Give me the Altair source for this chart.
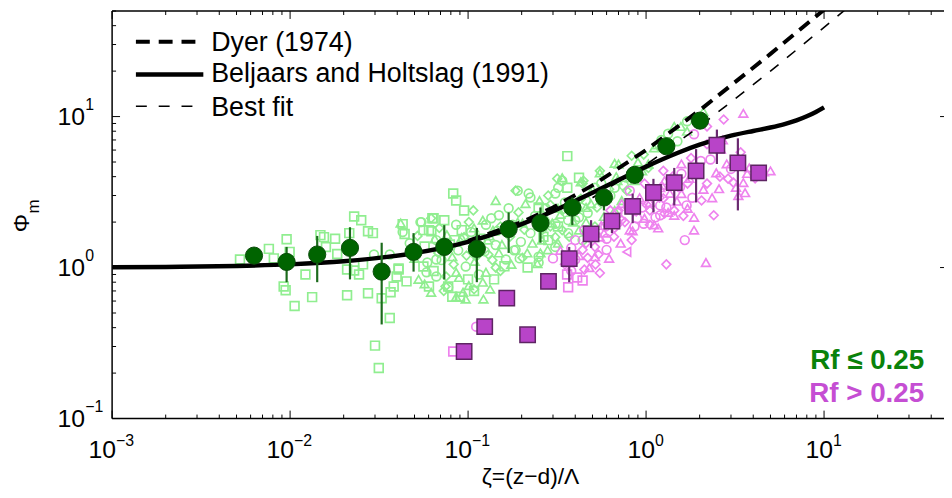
import altair as alt
import pandas as pd

FONT = "Liberation Sans"
W, H = 839, 411

# ---------------- data ----------------
# bin means, Rf <= 0.25 (filled green circles) with error bars
g_zeta = [0.00627, 0.00956, 0.0142, 0.0217, 0.0327, 0.0494, 0.0735, 0.112, 0.169, 0.255, 0.385, 0.580, 0.863, 1.30, 2.01]
g_phi = [1.20, 1.09, 1.22, 1.35, 0.94, 1.27, 1.37, 1.33, 1.80, 1.97, 2.50, 2.91, 4.11, 6.36, 9.4]
g_lo = [1.20, 0.80, 0.80, 0.835, 0.42, 0.94, 0.835, 0.80, 1.25, 1.46, 1.91, 2.39, 3.6, 6.0, 9.4]
g_hi = [1.20, 1.37, 1.62, 1.85, 1.46, 1.69, 1.91, 1.83, 2.32, 2.50, 2.91, 3.23, 4.57, 6.7, 9.4]

# bin means, Rf > 0.25 (filled purple squares) with error bars
p_zeta = [0.095, 0.124, 0.165, 0.216, 0.283, 0.370, 0.491, 0.643, 0.841, 1.10, 1.44, 1.91, 2.50, 3.28, 4.29]
p_phi = [0.278, 0.406, 0.627, 0.359, 0.81, 1.145, 1.67, 2.03, 2.54, 3.14, 3.65, 4.37, 6.46, 4.93, 4.24]
p_lo = [0.278, 0.406, 0.627, 0.359, 0.81, 0.80, 1.35, 1.69, 1.97, 2.32, 2.58, 2.70, 4.85, 2.39, 4.24]
p_hi = [0.278, 0.406, 0.627, 0.359, 0.81, 1.37, 2.06, 2.29, 3.09, 3.87, 4.57, 6.09, 8.2, 7.18, 4.24]

# individual runs, Rf <= 0.25 (open light-green markers)
lg_zeta = [0.00523, 0.0076, 0.0081, 0.00956, 0.00994, 0.0092, 0.00944, 0.0106, 0.0122, 0.0133,
           0.0148, 0.0155, 0.0179, 0.0159, 0.0184, 0.0209, 0.0209, 0.0229, 0.0215, 0.0229,
           0.0251, 0.0274, 0.0292, 0.0257, 0.0244, 0.0274, 0.0296, 0.0363, 0.0327, 0.0367,
           0.0363, 0.0382, 0.0407, 0.0397, 0.0451, 0.0429, 0.044, 0.054, 0.0561, 0.0622,
           0.063, 0.030, 0.0315,
           0.361, 0.317, 0.321, 0.185, 0.219, 0.224, 0.252, 0.143, 0.0825, 0.0857,
           0.095, 0.107, 0.121, 0.135, 0.149, 0.169, 0.192, 0.210, 0.0640, 0.0735,
           0.0547, 0.0603, 0.0689, 0.0857, 0.0921, 0.101, 0.108, 0.126, 0.138, 0.152,
           0.178, 0.202, 0.224, 0.261, 0.297, 0.282, 0.309, 0.338, 0.255, 0.216,
           0.245, 0.185, 0.202, 0.149, 0.163, 0.143, 0.126, 0.140, 0.121, 0.108,
           0.0937, 0.090, 0.0773, 0.0752, 0.0663, 0.0603, 0.0620, 0.0584, 0.0561, 0.0527,
           0.0663, 0.0815, 0.0970, 0.111, 0.0857, 0.100, 0.0747, 0.0815, 0.0663, 0.084,
           0.095, 0.129, 0.143, 0.130, 0.115, 0.107, 0.097, 0.122, 0.0857, 0.0773,
           0.0889, 0.108, 0.0407, 0.0418, 0.0429, 0.062, 0.249, 0.249, 0.338, 0.361,
           0.309, 0.282, 0.249, 0.190, 0.430, 0.445, 0.55, 0.70, 0.666, 0.58,
           0.46, 0.42, 0.272, 0.32, 0.365, 0.46, 0.516, 0.58, 0.666, 0.73,
           0.78, 0.861, 0.95, 1.03, 0.29, 0.26, 0.28, 0.309, 0.42, 0.42,
           0.44, 0.55, 0.666, 0.83, 1.11, 1.33, 1.44, 1.70, 1.03, 0.81,
           0.69, 0.516, 0.44, 0.338, 0.42, 0.63, 0.49, 0.338, 0.40, 0.46,
           0.32, 0.365, 0.32, 1.57, 1.50, 1.70, 2.1,
           0.047, 0.050, 0.052, 0.057, 0.059, 0.065, 0.068, 0.071, 0.076, 0.079,
           0.083, 0.088, 0.092, 0.098, 0.104, 0.109, 0.117, 0.124, 0.132, 0.137,
           0.146, 0.155, 0.160, 0.172, 0.181, 0.190, 0.198, 0.207, 0.230, 0.238,
           0.265, 0.275, 0.29, 0.31, 0.33, 0.35, 0.37, 0.39, 0.41, 0.43,
           0.47, 0.50, 0.53, 0.56, 0.60, 0.62, 0.68, 0.75, 0.90, 0.97,
           1.15, 1.22, 0.057, 0.064, 0.073, 0.101, 0.115, 0.133, 0.152, 0.175,
           0.195, 0.215]
lg_phi = [1.13, 1.33, 1.15, 1.54, 1.27, 0.75, 0.707, 0.556, 0.90, 0.637,
          1.64, 1.59, 1.55, 1.37, 1.23, 0.656, 0.970, 0.955, 1.69, 2.18,
          2.06, 1.74, 1.69, 1.05, 0.90, 0.676, 1.22, 1.22, 0.627, 0.686,
          0.464, 0.75, 0.985, 0.873, 0.81, 1.94, 1.67, 2.00, 1.77, 1.74,
          2.12, 0.304, 0.216,
          5.47, 3.88, 3.38, 3.23, 3.09, 2.91, 2.78, 2.78, 3.09, 2.78,
          2.39, 2.39, 2.06, 2.12, 2.22, 2.47, 2.32, 2.65, 2.12, 2.06,
          2.00, 1.77, 1.83, 1.92, 1.77, 2.00, 1.83, 1.92, 1.77, 1.87,
          1.92, 1.97, 1.69, 1.77, 1.97, 1.52, 1.37, 1.77, 1.25, 1.00,
          1.06, 1.31, 1.16, 1.25, 1.13, 1.00, 0.93, 0.835, 0.80, 0.718,
          0.686, 0.64, 0.75, 0.873, 0.873, 0.75, 0.686, 0.93, 1.015, 0.835,
          1.13, 1.18, 1.015, 1.18, 0.93, 0.835, 0.75, 0.64, 1.52, 1.52,
          1.59, 1.52, 1.41, 1.22, 1.37, 1.48, 0.618, 0.618, 0.64, 0.74,
          0.86, 0.70, 0.97, 1.97, 1.72, 2.12, 1.18, 1.08, 3.76, 3.38,
          3.09, 3.00, 2.50, 3.23, 3.70, 3.76, 4.24, 4.85, 3.38, 3.09,
          2.78, 2.78, 2.47, 2.47, 2.06, 2.00, 1.87, 2.18, 2.39, 2.78,
          3.23, 3.76, 4.37, 4.85, 1.87, 1.52, 1.31, 1.59, 2.15, 1.77,
          1.52, 4.37, 4.9, 5.5, 6.2, 7.7, 8.6, 9.3, 4.57, 3.93,
          3.76, 3.38, 3.60, 3.93, 3.93, 3.00, 2.65, 2.39, 2.06, 2.50,
          1.87, 1.69, 1.45, 8.6, 6.86, 8.0, 10.8,
          1.45, 1.15, 1.62, 1.38, 1.08, 1.55, 1.25, 1.12, 1.65, 1.42,
          1.05, 1.30, 1.58, 1.20, 1.72, 1.10, 1.55, 1.28, 1.62, 1.12,
          1.75, 1.42, 1.02, 1.60, 1.30, 2.00, 1.48, 1.78, 1.45, 2.20,
          1.60, 2.10, 2.60, 1.95, 2.25, 2.70, 1.60, 2.00, 2.45, 2.85,
          2.30, 3.30, 2.50, 3.60, 2.90, 3.30, 4.00, 3.50, 5.00, 5.60,
          6.50, 7.00, 0.78, 0.95, 0.70, 0.76, 0.90, 0.72, 0.95, 1.05,
          1.15, 1.25]
lg_shape = ["s"] * 26 + ["o", "o"] + ["s"] * 9 + ["o"] + ["s"] * 5 + \
    ["s", "d", "o", "d", "o", "o", "^", "^", "s", "s",
     "s", "d", "^", "o", "o", "o", "d", "^", "s", "s",
     "o", "s", "d", "o", "s", "d", "^", "o", "^", "d",
     "o", "^", "o", "d", "^", "s", "o", "d", "^", "s",
     "^", "o", "d", "^", "o", "d", "^", "s", "^", "d",
     "^", "s", "s", "d", "o", "s", "^", "o", "s", "^",
     "o", "^", "o", "d", "^", "s", "d", "s", "o", "s",
     "d", "^", "o", "d", "s", "^", "^", "^", "^", "o",
     "^", "s", "s", "^", "o", "d", "o", "o", "o", "s",
     "o", "d", "s", "o", "^", "d", "^", "^", "o", "^",
     "o", "d", "o", "^", "o", "^", "d", "^", "^", "^",
     "d", "^", "^", "^", "d", "^", "^", "d", "o", "^",
     "o", "d", "^", "d", "^", "o", "^", "o", "d", "^",
     "^", "o", "d", "^", "s", "o", "^", "d", "o", "^",
     "s", "o", "^", "^", "o", "^", "^",
     "o", "^", "d", "s", "o", "^", "d", "o", "^", "s",
     "d", "o", "^", "d", "o", "^", "s", "o", "^", "d",
     "o", "^", "s", "d", "o", "^", "o", "d", "^", "o",
     "s", "^", "d", "o", "^", "o", "d", "^", "o", "d",
     "o", "^", "d", "o", "^", "d", "^", "o", "^", "d",
     "^", "o", "^", "s", "d", "^", "o", "^", "d", "^",
     "o", "^"]

# individual runs, Rf > 0.25 (open violet markers)
pk_zeta = [3.52, 2.73, 2.2, 1.86, 2.2, 2.63, 2.84, 2.48, 2.89, 3.52,
           3.6, 3.10, 2.03, 1.79, 1.58, 1.71, 1.58, 1.38, 1.25, 1.33,
           1.20, 1.05, 1.11, 1.05, 0.89, 0.81, 0.73, 0.95, 1.20, 0.98,
           0.81, 0.73, 0.63, 0.59, 0.55, 0.516, 0.516, 0.47, 0.40, 0.44,
           0.40, 0.78, 1.30, 2.17, 2.05, 1.86, 1.69, 2.2, 2.57, 3.8,
           1.71, 1.44, 5.0, 0.365, 0.41, 0.54, 0.45, 0.58, 0.666, 0.861,
           0.98, 1.17, 1.27, 1.20, 1.05, 1.44, 0.69, 0.63, 0.70, 1.27,
           1.25, 1.58, 0.0825, 0.111, 0.45, 0.60, 0.83, 1.86, 1.65, 2.40,
           3.3,
           0.42, 0.46, 0.50, 0.52, 0.56, 0.60, 0.62, 0.66, 0.69, 0.72,
           0.76, 0.79, 0.84, 0.88, 0.92, 0.97, 1.01, 1.07, 1.13, 1.19,
           1.23, 1.30, 1.36, 1.41, 1.49, 1.55, 1.62, 1.75, 1.82, 1.95,
           2.1, 2.3, 2.35, 2.6, 2.7, 3.0, 3.2, 3.4, 3.7, 4.1,
           4.6, 0.38, 0.44, 0.48, 0.55, 0.35, 0.30, 0.33, 0.38, 0.36]
pk_phi = [10.5, 9.56, 8.6, 7.63, 6.56, 6.08, 4.86, 4.24, 3.88, 3.65,
          3.13, 3.65, 5.08, 5.31, 4.86, 3.60, 3.09, 3.60, 2.87, 2.32,
          2.22, 2.39, 1.92, 1.92, 2.12, 1.77, 2.06, 2.50, 3.38, 3.60,
          3.23, 2.65, 2.39, 1.87, 1.59, 1.37, 1.18, 1.16, 1.52, 1.31,
          1.13, 1.27, 1.05, 1.08, 2.78, 2.15, 2.58, 3.60, 3.33, 4.57,
          2.47, 2.22, 4.37, 0.74, 0.86, 1.22, 1.77, 1.69, 1.83, 1.87,
          2.12, 1.83, 2.28, 2.58, 2.70, 2.39, 1.97, 2.15, 2.39, 3.76,
          4.37, 4.18, 0.278, 0.406, 0.97, 1.31, 1.52, 1.77, 1.52, 2.22,
          3.0,
          1.20, 1.45, 1.62, 1.05, 1.90, 1.55, 1.15, 1.60, 2.30, 1.45,
          2.00, 2.55, 1.75, 2.35, 2.90, 1.95, 2.60, 3.20, 2.15, 2.90,
          3.50, 2.50, 3.10, 4.00, 2.75, 3.40, 2.20, 3.90, 2.90, 4.60,
          3.30, 5.20, 2.90, 4.00, 7.00, 4.50, 3.40, 5.80, 4.20, 3.90,
          4.30, 0.95, 0.82, 1.00, 0.92, 1.05, 1.15, 1.30, 1.35, 0.90]
pk_shape = ["^", "d", "d", "o", "d", "^", "^", "^", "d", "^",
            "^", "d", "o", "d", "^", "d", "^", "o", "d", "^",
            "o", "d", "^", "d", "o", "^", "d", "o", "^", "d",
            "o", "^", "d", "o", "^", "d", "^", "d", "o", "d",
            "o", "<", "d", "^", "d", "^", "o", "d", "^", "^",
            "^", "^", "^", "s", "s", "d", "o", "^", "d", "o",
            "^", "^", "d", "o", "^", "d", "o", "^", "d", "^",
            "d", "o", "s", "o", "d", "o", "d", "^", "o", "d",
            "^",
            "^", "d", "o", "d", "^", "o", "^", "d", "o", "^",
            "d", "o", "^", "d", "^", "o", "d", "^", "o", "d",
            "^", "o", "^", "d", "^", "o", "d", "^", "o", "d",
            "^", "o", "^", "d", "^", "o", "^", "d", "^", "d",
            "^", "o", "s", "^", "d", "d", "o", "^", "o", "s"]

# model curves
dyer_zeta = [0.1, 0.2, 0.3, 0.5, 1, 2, 5, 10, 20]
dyer_phi = [1.5, 2.0, 2.5, 3.5, 6.0, 11.0, 26.0, 51.0, 101.0]
bh_zeta = [0.001, 0.002, 0.005, 0.01, 0.02, 0.05, 0.1, 0.2, 0.3, 0.5, 0.7, 1.0, 1.5, 2.0,
           3.0, 4.0, 5.0, 6.0, 7.0, 8.0, 9.0, 10.0]
bh_phi = [1.005, 1.01, 1.025, 1.05, 1.1, 1.246, 1.48, 1.94, 2.36, 3.13, 3.80, 4.66, 5.74, 6.51,
          7.47, 8.03, 8.46, 8.91, 9.43, 10.04, 10.73, 11.5]
fit_zeta = [0.5, 1, 2, 5, 10, 20]
fit_phi = [2.9, 4.8, 8.6, 20.0, 39.0, 77.0]

# axis ticks
x_major = [0.001, 0.01, 0.1, 1, 10]
x_exp = ["\u22123", "\u22122", "\u22121", "0", "1"]
x_neg = [True, True, True, False, False]
x_minor = [m * d for d in [0.001, 0.01, 0.1, 1, 10] for m in range(2, 10) if m * d < 47]
y_major = [0.1, 1, 10]
y_exp = ["\u22121", "0", "1"]
y_minor = [m * d for d in [0.1, 1, 10] for m in range(2, 10) if m * d <= 50]

# ---------------- chart ----------------
xs = alt.Scale(type="log", domain=[0.001, 47.2])
ys = alt.Scale(type="log", domain=[0.1, 50])
X = lambda f: alt.X(f + ":Q", scale=xs, axis=None)
Y = lambda f: alt.Y(f + ":Q", scale=ys, axis=None)

shape_scale = alt.Scale(domain=["s", "o", "^", "d", "<"],
                        range=["square", "circle", "triangle-up", "diamond", "triangle-left"])

green_df = pd.DataFrame({"z": lg_zeta, "p": lg_phi, "s": lg_shape})
pink_df = pd.DataFrame({"z": pk_zeta, "p": pk_phi, "s": pk_shape})
gm_df = pd.DataFrame({"z": g_zeta, "p": g_phi, "lo": g_lo, "hi": g_hi})
pm_df = pd.DataFrame({"z": p_zeta, "p": p_phi, "lo": p_lo, "hi": p_hi})

open_green = alt.Chart(green_df).mark_point(filled=False, size=78, strokeWidth=1.7, opacity=1,
                                            color="#90EE90").encode(
    x=X("z"), y=Y("p"), shape=alt.Shape("s:N", scale=shape_scale, legend=None))
open_pink = alt.Chart(pink_df).mark_point(filled=False, size=78, strokeWidth=1.7, opacity=1,
                                          color="#EE82EE").encode(
    x=X("z"), y=Y("p"), shape=alt.Shape("s:N", scale=shape_scale, legend=None))

bh_line = alt.Chart(pd.DataFrame({"z": bh_zeta, "p": bh_phi})).mark_line(
    color="black", strokeWidth=4.5, clip=True, interpolate="monotone").encode(x=X("z"), y=Y("p"))
dyer_line = alt.Chart(pd.DataFrame({"z": dyer_zeta, "p": dyer_phi})).mark_line(
    color="black", strokeWidth=4, strokeDash=[13, 8], clip=True).encode(x=X("z"), y=Y("p"))
fit_line = alt.Chart(pd.DataFrame({"z": fit_zeta, "p": fit_phi})).mark_line(
    color="black", strokeWidth=1.6, strokeDash=[11, 11], clip=True).encode(x=X("z"), y=Y("p"))

g_err = alt.Chart(gm_df).mark_rule(color="#1B6B1B", strokeWidth=2.2).encode(
    x=X("z"), y=Y("lo"), y2="hi:Q")
p_err = alt.Chart(pm_df).mark_rule(color="#6A2A70", strokeWidth=2.2).encode(
    x=X("z"), y=Y("lo"), y2="hi:Q")
g_pts = alt.Chart(gm_df).mark_point(filled=True, shape="circle", size=300, opacity=1,
                                    color="#006400", stroke="#0B4D0B", strokeWidth=1).encode(
    x=X("z"), y=Y("p"))
p_pts = alt.Chart(pm_df).mark_point(filled=True, shape="square", size=240, opacity=1,
                                    color="#B844C8", stroke="#5E2463", strokeWidth=1.5).encode(
    x=X("z"), y=Y("p"))

one = pd.DataFrame({"a": [0]})
frame = [
    alt.Chart(one).mark_rule(color="black", strokeWidth=1.5).encode(
        x=alt.value(0), x2=alt.value(W), y=alt.value(0)),
    alt.Chart(one).mark_rule(color="black", strokeWidth=1.5).encode(
        x=alt.value(0), x2=alt.value(W), y=alt.value(H)),
    alt.Chart(one).mark_rule(color="black", strokeWidth=1.5).encode(
        x=alt.value(0), y=alt.value(0), y2=alt.value(H)),
]

xmaj = pd.DataFrame({"v": x_major, "e": x_exp, "neg": x_neg})
xmin = pd.DataFrame({"v": x_minor})
ymaj = pd.DataFrame({"v": y_major, "e": y_exp})
ymin = pd.DataFrame({"v": y_minor})

ticks = []
for df, ln in [(xmaj, 8), (xmin, 4)]:
    ticks.append(alt.Chart(df).mark_rule(color="black", strokeWidth=1).encode(
        x=X("v"), y=alt.value(H), y2=alt.value(H - ln)))
    ticks.append(alt.Chart(df).mark_rule(color="black", strokeWidth=1).encode(
        x=X("v"), y=alt.value(0), y2=alt.value(ln)))
for df, ln in [(ymaj, 8), (ymin, 4)]:
    ticks.append(alt.Chart(df).mark_rule(color="black", strokeWidth=1).encode(
        y=Y("v"), x=alt.value(0), x2=alt.value(ln)))
ticks.append(alt.Chart(ymaj).mark_rule(color="black", strokeWidth=1).encode(
    y=Y("v"), x=alt.value(W - 4), x2=alt.value(W)))

labels = []
for neg, dx in [(True, 4), (False, 9)]:
    base = alt.Chart(xmaj).transform_filter(alt.datum.neg == neg)
    labels.append(base.mark_text(text="10", align="right", baseline="alphabetic", fontSize=25,
                                 font=FONT, dx=dx).encode(x=X("v"), y=alt.value(H + 40)))
    labels.append(base.mark_text(align="left", baseline="alphabetic", fontSize=16,
                                 font=FONT, dx=dx).encode(x=X("v"), y=alt.value(H + 28), text="e:N"))
labels.append(alt.Chart(ymaj).mark_text(text="10", align="left", baseline="alphabetic", fontSize=25,
                                        font=FONT, dy=9).encode(y=Y("v"), x=alt.value(-55)))
labels.append(alt.Chart(ymaj).mark_text(align="left", baseline="alphabetic", fontSize=16,
                                        font=FONT, dy=-7).encode(y=Y("v"), x=alt.value(-27), text="e:N"))

titles = [
    alt.Chart(one).mark_text(text="\u03b6=(z\u2212d)/\u039b", align="center", baseline="alphabetic",
                             fontSize=23, font=FONT).encode(x=alt.value(422), y=alt.value(477)),
    alt.Chart(one).mark_text(text="\u03a6", angle=270, align="center", baseline="middle",
                             fontSize=23, font=FONT).encode(x=alt.value(-91), y=alt.value(214)),
    alt.Chart(one).mark_text(text="m", angle=270, align="center", baseline="middle",
                             fontSize=17, font=FONT).encode(x=alt.value(-79), y=alt.value(197)),
]

legend = [
    alt.Chart(one).mark_rule(color="black", strokeWidth=4, strokeDash=[14, 9]).encode(
        x=alt.value(24), x2=alt.value(92), y=alt.value(31)),
    alt.Chart(one).mark_rule(color="black", strokeWidth=4.5).encode(
        x=alt.value(24), x2=alt.value(92), y=alt.value(64)),
    alt.Chart(one).mark_rule(color="black", strokeWidth=1.6, strokeDash=[11, 12]).encode(
        x=alt.value(24), x2=alt.value(92), y=alt.value(96)),
    alt.Chart(one).mark_text(text="Dyer (1974)", align="left", baseline="alphabetic",
                             fontSize=27, font=FONT).encode(x=alt.value(100), y=alt.value(40)),
    alt.Chart(one).mark_text(text="Beljaars and Holtslag (1991)", align="left", baseline="alphabetic",
                             fontSize=27, font=FONT).encode(x=alt.value(100), y=alt.value(72)),
    alt.Chart(one).mark_text(text="Best fit", align="left", baseline="alphabetic",
                             fontSize=27, font=FONT).encode(x=alt.value(100), y=alt.value(106)),
    alt.Chart(one).mark_text(text="Rf \u2264 0.25", align="right", baseline="alphabetic",
                             fontSize=28, fontWeight="bold", font=FONT, color="#0A820A").encode(
        x=alt.value(819), y=alt.value(361)),
    alt.Chart(one).mark_text(text="Rf > 0.25", align="right", baseline="alphabetic",
                             fontSize=28, fontWeight="bold", font=FONT, color="#C54ED3").encode(
        x=alt.value(819), y=alt.value(394)),
]

chart = alt.layer(
    open_green, open_pink, bh_line, dyer_line, fit_line, g_err, p_err, g_pts, p_pts,
    *frame, *ticks, *labels, *titles, *legend
).properties(
    width=W, height=H,
    autosize=alt.AutoSizeParams(type="none"),
    padding={"left": 105, "top": 1, "right": 0, "bottom": 70},
).configure_view(stroke=None)

chart.save("out.html", embed_options={"renderer": "svg", "actions": False})
